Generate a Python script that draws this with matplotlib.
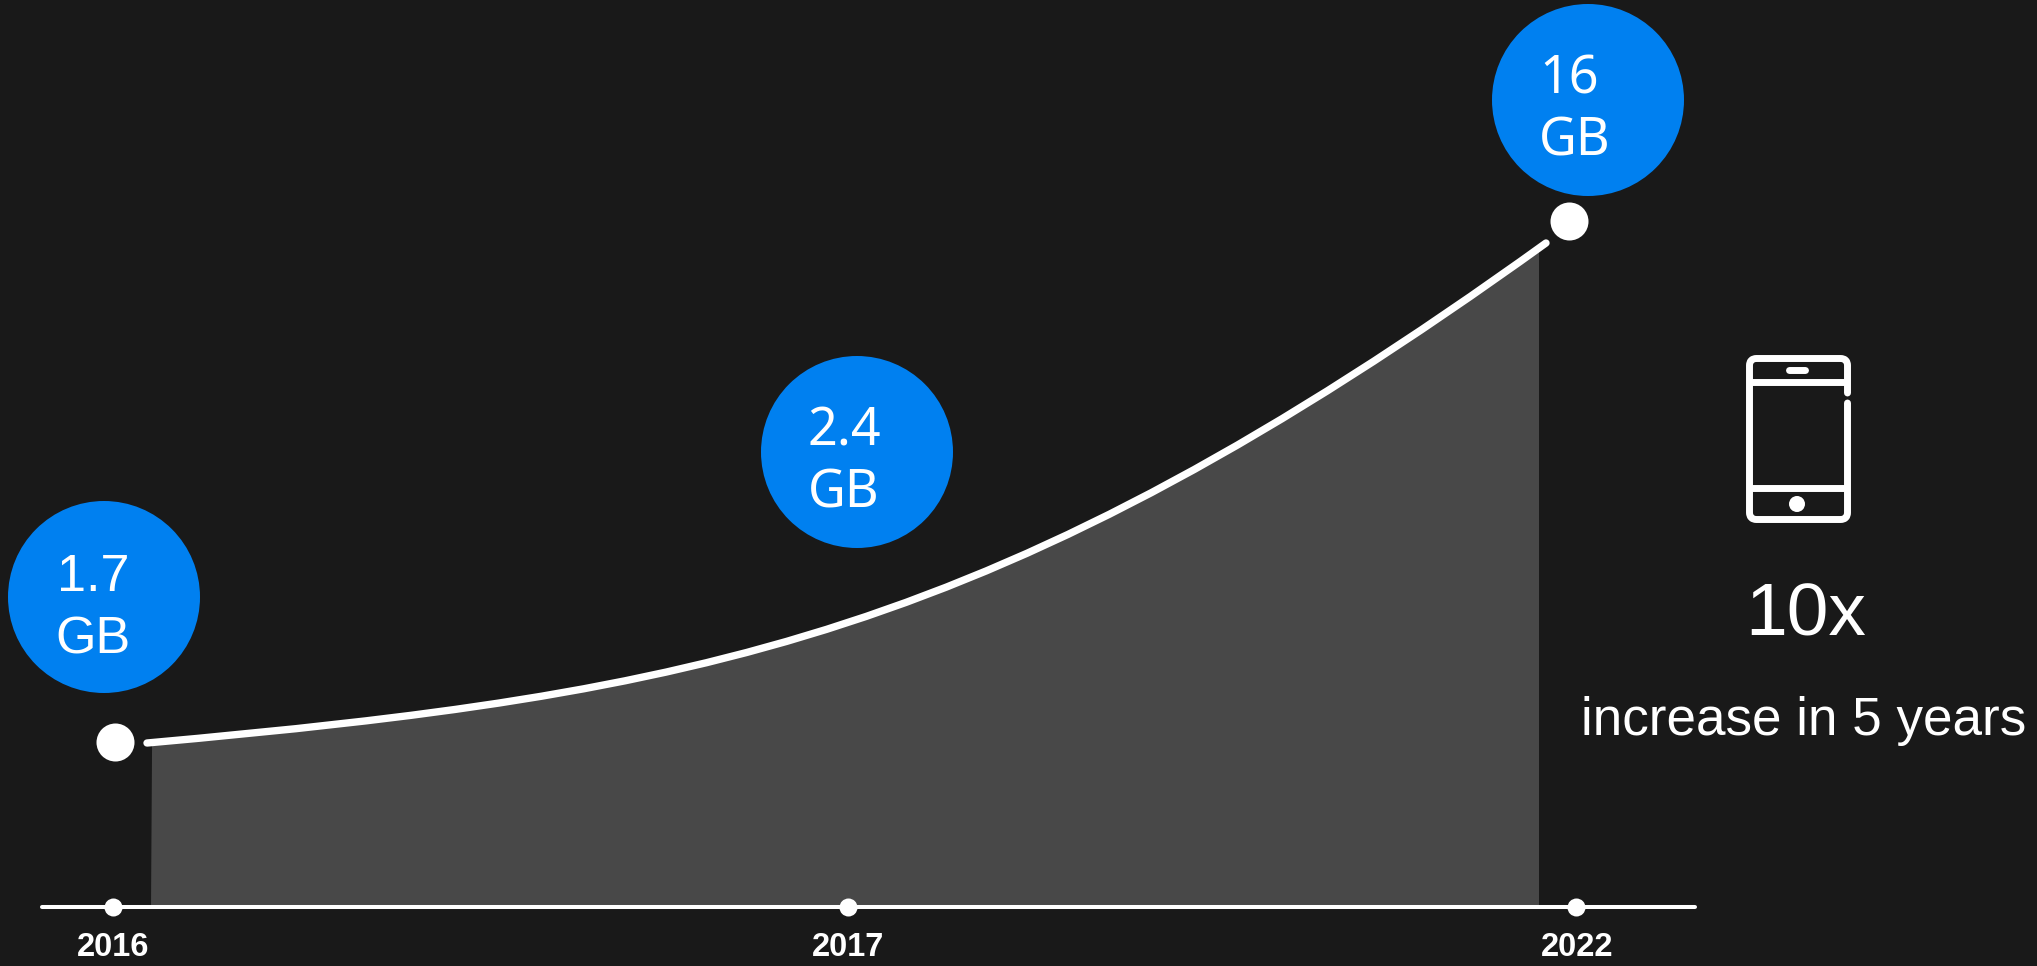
import matplotlib
matplotlib.use('Agg')
import matplotlib.pyplot as plt
from matplotlib.patches import Circle, PathPatch, Polygon
from matplotlib.path import Path

# everything is read off the picture, in pixels of the 2037x966 image
# the growth curve is one bezier: start, two handles, end
curve_x = [147, 697, 996, 1546]
curve_y = [743, 693.5, 639, 243]

years = ['2016', '2017', '2022']
year_x = [113, 848, 1577]
end_x = [115, 1569]
end_y = [742, 221]

bubble_x = [104, 857, 1588]
bubble_y = [597, 452, 100]
bubble_values = ['1.7', '2.4', '16']
bubble_units = ['GB', 'GB', 'GB']
bubble_fonts = ['Liberation Sans', 'Noto Sans', 'Noto Sans']
value_x = [57, 808, 1539]
unit_x = [55, 808, 1539]
value_base = [591, 445, 93]
unit_base = [653, 508, 156]

bg = '#191919'
blue = '#0080F0'
grey = '#484848'
axis_y = 907
fill_right = 1539

fig = plt.figure(figsize=(20.37, 9.66), dpi=100, facecolor=bg)
ax = fig.add_axes([0, 0, 1, 1])
ax.set_xlim(0, 2037)
ax.set_ylim(966, 0)
ax.axis('off')

curve_pts = list(zip(curve_x, curve_y))
curve_codes = [Path.MOVETO, Path.CURVE4, Path.CURVE4, Path.CURVE4]

# grey area under the curve, left edge leans a little
area = Path(curve_pts + [(curve_x[-1], 909), (curve_x[0], 909), (curve_x[0], 909)],
            curve_codes + [Path.LINETO, Path.LINETO, Path.CLOSEPOLY])
area_patch = PathPatch(area, fc=grey, ec='none', lw=0, zorder=1)
ax.add_patch(area_patch)
clip = Polygon([(151, 909), (153, 600), (153, 100), (fill_right, 100), (fill_right, 909)],
               transform=ax.transData)
area_patch.set_clip_path(clip)

ax.add_patch(PathPatch(Path(curve_pts, curve_codes), fill=False, ec='white', lw=5.3,
                       capstyle='round', joinstyle='round', zorder=3))

# time axis
ax.plot([42, 1695], [axis_y, axis_y], color='white', lw=2.9, solid_capstyle='round', zorder=3)
ax.scatter([113, 848, 1576], [axis_y] * 3, s=(18 * 0.72) ** 2, color='white', lw=0, zorder=4)
for x, label in zip(year_x, years):
    ax.text(x, 956, label, color='white', fontsize=23.5, fontweight='bold',
            family='Liberation Sans', ha='center', va='baseline')

ax.scatter(end_x, end_y, s=(38 * 0.72) ** 2, color='white', lw=0, zorder=4)

for i in range(3):
    ax.add_patch(Circle((bubble_x[i], bubble_y[i]), 96, color=blue, lw=0, zorder=2))
    ax.text(value_x[i], value_base[i], bubble_values[i], color='white', fontsize=37.5,
            family=bubble_fonts[i], ha='left', va='baseline', zorder=5)
    ax.text(unit_x[i], unit_base[i], bubble_units[i], color='white', fontsize=37.5,
            family=bubble_fonts[i], ha='left', va='baseline', zorder=5)

# phone icon
L, R, T, B, rad = 1749.5, 1847.5, 358.5, 519.5, 7
phone = Path(
    [(R, 393), (R, T + rad), (R, T), (R - rad, T), (L + rad, T), (L, T), (L, T + rad),
     (L, B - rad), (L, B), (L + rad, B), (R - rad, B), (R, B), (R, B - rad), (R, 403)],
    [Path.MOVETO, Path.LINETO, Path.CURVE3, Path.CURVE3, Path.LINETO, Path.CURVE3, Path.CURVE3,
     Path.LINETO, Path.CURVE3, Path.CURVE3, Path.LINETO, Path.CURVE3, Path.CURVE3, Path.LINETO])
ax.add_patch(PathPatch(phone, fill=False, ec='white', lw=5, capstyle='round', joinstyle='round'))
ax.plot([L, R], [382, 382], color='white', lw=5, solid_capstyle='butt')
ax.plot([L, R], [488, 488], color='white', lw=5, solid_capstyle='butt')
ax.plot([1789, 1805], [370, 370], color='white', lw=5, solid_capstyle='round')
ax.add_patch(Circle((1797, 504), 8, color='white', lw=0))

ax.text(1806, 635, '10x', color='white', fontsize=54, family='Liberation Sans',
        ha='center', va='baseline')
ax.text(1804, 735, 'increase in 5 years', color='white', fontsize=38.2, family='Liberation Sans',
        ha='center', va='baseline')

fig.savefig('out.png', dpi=100, facecolor=bg)
